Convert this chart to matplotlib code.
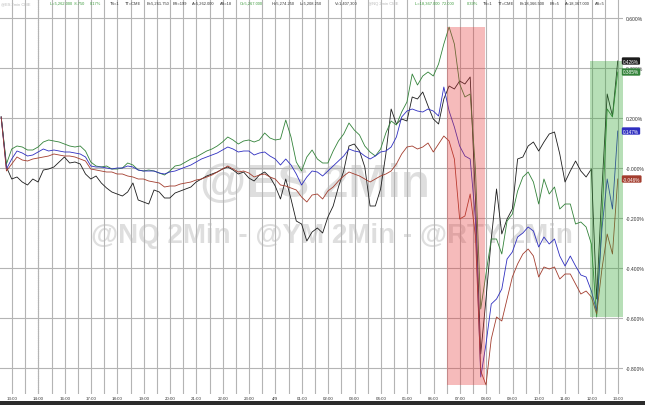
import numpy as np
import matplotlib.pyplot as plt
from matplotlib.patches import Rectangle
from matplotlib.ticker import MultipleLocator, FuncFormatter
import matplotlib.transforms as mtransforms

# sampling of the 2-min series: one reading every 0.2 h, starting just before 13:00
t0, step = -0.41, 0.2

black = [0.204, 0.004, -0.044, -0.036, -0.056, -0.068, -0.044, -0.056, -0.008, -0.004,
         0.004, 0.024, 0.044, 0.020, 0.024, 0.016, -0.024, -0.044, -0.032, -0.060,
         -0.080, -0.096, -0.104, -0.112, -0.096, -0.060, -0.128, -0.136, -0.144, -0.088,
         -0.096, -0.120, -0.120, -0.100, -0.092, -0.084, -0.076, -0.056, -0.044, -0.032,
         -0.024, -0.016, -0.004, 0.004, -0.008, -0.024, -0.016, -0.040, -0.052, -0.028,
         -0.016, -0.036, -0.072, -0.124, -0.044, -0.124, -0.212, -0.224, -0.292, -0.256,
         -0.240, -0.260, -0.196, -0.152, -0.076, -0.012, 0.088, 0.096, 0.068, 0.004,
         -0.152, -0.152, -0.084, 0.056, 0.236, 0.176, 0.196, 0.188, 0.284, 0.276,
         0.304, 0.248, 0.196, 0.176, 0.276, 0.328, 0.316, 0.348, 0.336, 0.364,
         -0.124, -0.744, -0.524, -0.284, -0.084, -0.264, -0.204, -0.164, 0.036, 0.044,
         0.088, 0.104, 0.068, 0.104, 0.136, 0.144, 0.056, -0.056, -0.012, 0.028,
         -0.012, -0.036, -0.004, -0.524, -0.084, 0.296, 0.208, 0.428]

green = [0.204, 0.016, 0.076, 0.088, 0.084, 0.072, 0.072, 0.084, 0.104, 0.112,
         0.108, 0.104, 0.096, 0.088, 0.084, 0.088, 0.068, 0.024, 0.008, 0.004,
         0.008, -0.004, -0.004, 0.000, 0.020, 0.012, -0.008, -0.012, -0.008, -0.012,
         -0.020, -0.028, -0.012, 0.008, 0.012, 0.024, 0.036, 0.044, 0.056, 0.068,
         0.076, 0.088, 0.104, 0.124, 0.112, 0.096, 0.108, 0.112, 0.104, 0.112,
         0.140, 0.120, 0.112, 0.116, 0.192, 0.124, 0.024, -0.012, 0.044, 0.072,
         0.036, 0.020, 0.020, 0.068, 0.108, 0.136, 0.180, 0.152, 0.132, 0.088,
         0.064, 0.048, 0.076, 0.140, 0.188, 0.172, 0.224, 0.264, 0.376, 0.332,
         0.368, 0.384, 0.368, 0.416, 0.496, 0.564, 0.496, 0.336, 0.284, 0.296,
         -0.004, -0.564, -0.424, -0.284, -0.284, -0.344, -0.212, -0.184, -0.092, -0.036,
         -0.016, -0.056, -0.144, -0.044, -0.104, -0.076, -0.164, -0.144, -0.144, -0.224,
         -0.216, -0.236, -0.304, -0.596, -0.204, 0.236, 0.204, 0.384]

blue = [0.204, -0.004, 0.036, 0.068, 0.060, 0.048, 0.052, 0.064, 0.076, 0.068,
        0.072, 0.068, 0.064, 0.064, 0.060, 0.056, 0.044, 0.008, 0.004, 0.004,
        0.000, -0.004, 0.000, 0.000, 0.008, 0.004, -0.008, -0.012, -0.012, -0.012,
        -0.020, -0.024, -0.016, -0.012, -0.004, 0.004, 0.012, 0.024, 0.036, 0.044,
        0.052, 0.060, 0.072, 0.084, 0.076, 0.064, 0.068, 0.068, 0.052, 0.060,
        0.064, 0.048, 0.036, 0.012, 0.036, 0.012, -0.024, -0.068, -0.036, -0.012,
        -0.016, -0.032, -0.012, 0.008, 0.028, 0.048, 0.076, 0.068, 0.064, 0.048,
        0.036, 0.048, 0.064, 0.068, 0.084, 0.124, 0.204, 0.228, 0.236, 0.228,
        0.224, 0.236, 0.228, 0.208, 0.324, 0.228, 0.164, 0.088, 0.048, 0.036,
        -0.204, -0.836, -0.704, -0.544, -0.524, -0.484, -0.364, -0.336, -0.276, -0.260,
        -0.236, -0.252, -0.316, -0.276, -0.304, -0.284, -0.352, -0.392, -0.352, -0.392,
        -0.428, -0.436, -0.492, -0.572, -0.244, -0.044, -0.164, 0.148]

red = [0.204, -0.012, 0.016, 0.044, 0.032, 0.028, 0.036, 0.040, 0.044, 0.048,
       0.056, 0.052, 0.048, 0.048, 0.044, 0.036, 0.028, -0.004, -0.008, -0.012,
       -0.016, -0.016, -0.024, -0.024, -0.032, -0.036, -0.044, -0.044, -0.052, -0.056,
       -0.060, -0.076, -0.072, -0.072, -0.064, -0.060, -0.056, -0.048, -0.044, -0.036,
       -0.028, -0.016, -0.004, 0.008, -0.004, -0.016, -0.012, -0.020, -0.036, -0.028,
       -0.024, -0.036, -0.044, -0.068, -0.072, -0.080, -0.088, -0.116, -0.136, -0.108,
       -0.104, -0.124, -0.092, -0.076, -0.052, -0.032, -0.016, -0.024, -0.032, -0.044,
       -0.056, -0.044, -0.032, -0.024, -0.012, 0.016, 0.056, 0.084, 0.088, 0.076,
       0.084, 0.100, 0.064, 0.096, 0.128, 0.108, 0.036, -0.204, -0.192, -0.104,
       -0.272, -0.812, -0.868, -0.684, -0.596, -0.612, -0.524, -0.436, -0.384, -0.344,
       -0.324, -0.352, -0.436, -0.396, -0.404, -0.396, -0.444, -0.424, -0.424, -0.464,
       -0.504, -0.492, -0.516, -0.584, -0.404, -0.264, -0.344, -0.044]

last_labels = ['0.426%', '0.385%', '0.147%', '-0.046%']
tick_labels = ['13:00', '14:00', '16:00', '17:00', '18:00', '19:00', '20:00', '21:00',
               '22:00', '23:00', '4/9', '01:00', '02:00', '03:00', '04:00', '05:00',
               '06:00', '07:00', '08:00', '09:00', '10:00', '11:00', '12:00', '13:00']
# highlighted windows (hours on the axis)
red_win = (16.51, 17.97)
green_win = (21.94, 23.19)

header = [(1, '@ES 2min CME', 'g'), (50, 'L=5,262.000  8.750', 'u'), (90, '0.17%', 'u'),
          (110, 'TS=1', 'k'), (125, 'TT=CME', 'k'), (147, 'B=5,261.750', 'k'),
          (173, 'BS=199', 'k'), (192, 'A=5,262.000', 'k'), (220, 'AS=18', 'k'),
          (240, 'O=5,267.000', 'u'), (272, 'H=5,274.250', 'k'), (300, 'L=5,208.250', 'k'),
          (335, 'V=1,407,300', 'k'), (368, '@NQ 2min CME', 'g'),
          (415, 'L=18,367.000  72.000', 'u'), (467, '0.39%', 'u'), (483, 'TS=1', 'k'),
          (498, 'TT=CME', 'k'), (520, 'B=18,366.500', 'k'), (550, 'BS=5', 'k'),
          (565, 'A=18,367.000', 'k'), (595, 'AS=5', 'k')]
hcol = {'g': '#b8b8b8', 'u': '#3c9a3c', 'k': '#333333'}

plt.rcParams['font.family'] = ['Liberation Sans', 'DejaVu Sans']

W, H = 645, 406
fig = plt.figure(figsize=(W / 100, H / 100), dpi=100)
ax = fig.add_axes([0, 11 / H, 623 / W, 395 / H])

t = t0 + step * np.arange(len(black))
series = [(black, '#1c1c1c'), (green, '#33833a'), (blue, '#2f2fc0'), (red, '#a33d2e')]
for vals, col in series:
    ax.plot(t, vals, color=col, lw=0.6, zorder=3)

# shaded boxes, spanning the range of the lines inside the window
allv = np.array([black, green, blue, red])
for (a, b), fc, al in [(red_win, (0.9, 0.2, 0.2), 0.33), (green_win, (0.2, 0.65, 0.2), 0.35)]:
    m = (t >= a - 0.05) & (t <= b + 0.05)
    lo, hi = allv[:, m].min(), allv[:, m].max()
    ax.add_patch(Rectangle((a, lo), b - a, hi - lo, facecolor=fc, alpha=al,
                           edgecolor='none', zorder=5))

ax.set_xlim(-0.455, 23.19)
ax.set_ylim(-0.904, 0.676)
ax.set_xticks(range(len(tick_labels)))
ax.set_xticklabels(tick_labels)
ax.xaxis.set_minor_locator(MultipleLocator(0.5))
ax.set_yticks(np.arange(-0.8, 0.61, 0.2))
ax.yaxis.set_major_formatter(FuncFormatter(lambda v, p: '%.3f%%' % v))
ax.yaxis.tick_right()
ax.tick_params(axis='x', which='both', length=0, pad=1.5, labelsize=3.2, colors='#333333')
ax.tick_params(axis='y', length=0, pad=2, labelsize=3.6, colors='#333333')
ax.grid(True, which='both', axis='x', color='#b4b4b4', lw=0.8, zorder=0)
ax.grid(True, which='major', axis='y', color='#b4b4b4', lw=0.8, zorder=0)
ax.axvline(1, color='#707070', lw=0.8, ls=(0, (1, 1)), zorder=1)
for s in ax.spines.values():
    s.set_visible(False)

# watermarks
ax.text(315 / W, 1 - 185 / H, '@ES 2Min', transform=fig.transFigure, fontsize=34,
        fontweight='bold', color='#dedede', ha='center', va='center', zorder=1)
ax.text(332 / W, 1 - 236 / H, '@NQ 2Min - @YM 2Min - @RTY 2Min', transform=fig.transFigure,
        fontsize=20, fontweight='bold', color='#dedede', ha='center', va='center', zorder=1)

# last value tags on the right
trans = mtransforms.blended_transform_factory(ax.transAxes, ax.transData)
for (vals, col), lab in zip(series, last_labels):
    ax.text(1.0, vals[-1], lab, transform=trans, fontsize=3.4, color='white',
            ha='left', va='center', zorder=6, clip_on=False,
            bbox=dict(boxstyle='round,pad=0.25', fc=col, ec='none'))

for x, s, c in header:
    fig.text(x / W, 1 - 4 / H, s, fontsize=2.9, color=hcol[c], ha='left', va='center')

fig.patches.append(Rectangle((0, 0), 1, 4 / H, transform=fig.transFigure,
                             facecolor='#2b2b2b', edgecolor='none'))

fig.savefig('out.png', dpi=100)
